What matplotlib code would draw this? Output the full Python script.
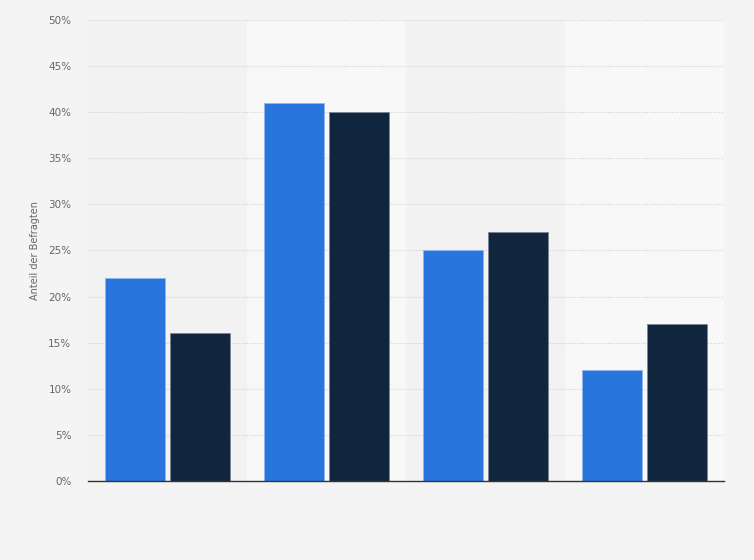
import matplotlib.pyplot as plt
import numpy as np

# Werte in Prozent
kategorien = ["A", "B", "C", "D"]
serie_blau = [22, 41, 25, 12]
serie_dunkel = [16, 40, 27, 17]
y_ticks = [0, 5, 10, 15, 20, 25, 30, 35, 40, 45, 50]

fig = plt.figure(figsize=(7.54, 5.6), dpi=100)
fig.patch.set_facecolor("#f4f4f4")
ax = fig.add_axes([88 / 754, 79 / 560, 636 / 754, 461 / 560])
ax.set_facecolor("none")

x = np.arange(len(kategorien))
breite = 0.377
versatz = 0.207

# Hintergrundstreifen je Kategorie
for i in x:
    farbe = "#f8f8f8" if i % 2 == 1 else "#f2f2f2"
    ax.axvspan(i - 0.5, i + 0.5, facecolor=farbe, edgecolor="none", zorder=0)

ax.bar(x - versatz, serie_blau, width=breite, color="#2876dd",
       edgecolor="#8fb6ee", linewidth=0.6, zorder=3)
ax.bar(x + versatz, serie_dunkel, width=breite, color="#10263e",
       edgecolor="#7a8694", linewidth=0.6, zorder=3)

ax.set_xlim(-0.5, len(kategorien) - 0.5)
ax.set_ylim(0, 50)
ax.set_yticks(y_ticks)
ax.set_yticklabels([f"{v}%" for v in y_ticks])
ax.set_xticks([])
ax.yaxis.grid(True, color="#d0d0d0", linestyle=(0, (1, 1.5)), linewidth=0.8, zorder=1)
ax.tick_params(axis="y", length=0, labelsize=7.5, labelcolor="#666666", pad=12)

for s in ["top", "right", "left"]:
    ax.spines[s].set_visible(False)
ax.spines["bottom"].set_color("#333333")
ax.spines["bottom"].set_linewidth(1.0)
ax.spines["bottom"].set_zorder(4)

ax.set_ylabel("Anteil der Befragten", fontsize=7, color="#666666", labelpad=6)

fig.savefig("out.png", dpi=100, facecolor=fig.get_facecolor())
